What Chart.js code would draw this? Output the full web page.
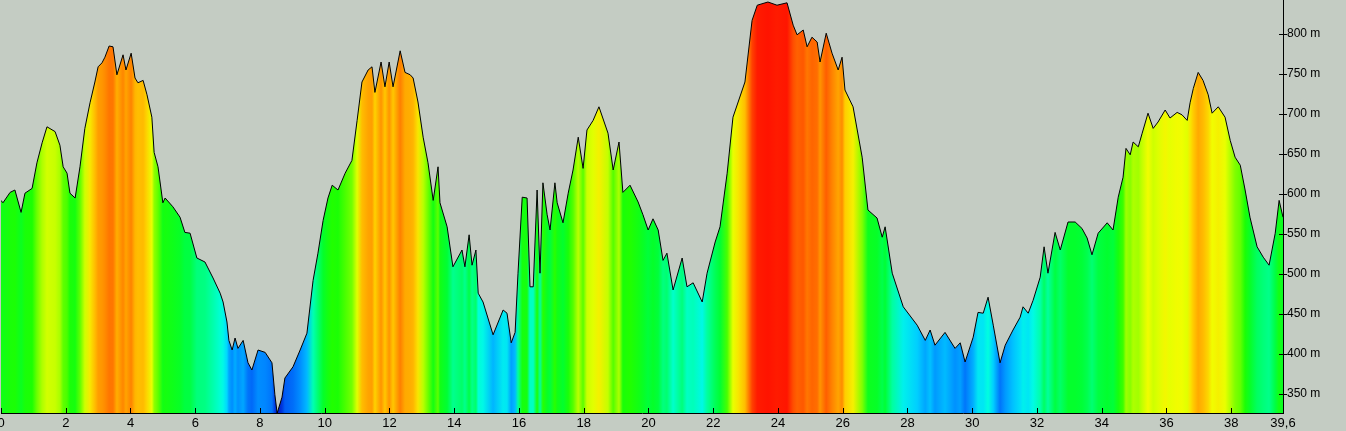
<!DOCTYPE html>
<html>
<head>
<meta charset="utf-8">
<script src="https://cdn.jsdelivr.net/npm/chart.js@4/dist/chart.umd.min.js"></script>
<style>
  body { margin: 0; background: #c4ccc3; }
  canvas { display: block; }
</style>
</head>
<body>
<canvas id="profile" width="1346" height="431"></canvas>
<script>
// distance along the track (km)
const distances = [
  0, 0.06, 0.28, 0.43, 0.62, 0.74, 0.96, 1.11, 1.27, 1.42, 1.67, 1.82, 1.92, 2.04, 2.13, 2.29,
  2.44, 2.59, 2.75, 2.90, 3.00, 3.12, 3.21, 3.34, 3.46, 3.58, 3.77, 3.86, 4.02, 4.14, 4.23, 4.39,
  4.51, 4.66, 4.73, 4.85, 5.00, 5.07, 5.31, 5.53, 5.68, 5.84, 6.05, 6.30, 6.55, 6.77, 6.86, 6.98,
  7.04, 7.14, 7.23, 7.32, 7.48, 7.63, 7.75, 7.94, 8.16, 8.37, 8.46, 8.53, 8.68, 8.77, 9.02, 9.24,
  9.45, 9.64, 9.79, 9.95, 10.10, 10.23, 10.41, 10.63, 10.84, 11.00, 11.15, 11.34, 11.46, 11.55, 11.74, 11.86,
  11.99, 12.11, 12.33, 12.48, 12.64, 12.73, 12.88, 13.04, 13.19, 13.35, 13.50, 13.56, 13.78, 13.96, 14.24, 14.33,
  14.46, 14.55, 14.67, 14.74, 14.89, 15.20, 15.51, 15.63, 15.76, 15.88, 15.97, 16.10, 16.25, 16.34, 16.44, 16.56,
  16.65, 16.74, 16.87, 16.96, 17.11, 17.18, 17.36, 17.52, 17.67, 17.83, 17.98, 18.10, 18.29, 18.47, 18.75, 18.91,
  19.09, 19.21, 19.43, 19.68, 19.83, 19.99, 20.14, 20.30, 20.45, 20.57, 20.76, 21.04, 21.19, 21.38, 21.66, 21.81,
  22.06, 22.21, 22.43, 22.61, 22.77, 22.98, 23.20, 23.36, 23.69, 23.97, 24.28, 24.47, 24.59, 24.78, 24.90, 25.05,
  25.21, 25.30, 25.49, 25.67, 25.86, 25.98, 26.07, 26.32, 26.60, 26.78, 27.06, 27.22, 27.31, 27.53, 27.87, 28.30,
  28.55, 28.70, 28.85, 29.16, 29.47, 29.63, 29.78, 30.03, 30.18, 30.34, 30.49, 30.65, 30.86, 31.02, 31.26, 31.48,
  31.57, 31.73, 31.88, 32.10, 32.22, 32.34, 32.56, 32.72, 32.96, 33.18, 33.39, 33.55, 33.70, 33.89, 34.17, 34.35,
  34.51, 34.66, 34.75, 34.88, 34.97, 35.13, 35.25, 35.43, 35.59, 35.74, 35.96, 36.11, 36.33, 36.48, 36.64, 36.73,
  36.83, 36.98, 37.13, 37.29, 37.41, 37.60, 37.81, 37.97, 38.12, 38.28, 38.43, 38.58, 38.80, 38.99, 39.17, 39.36,
  39.48, 39.60
];

// elevation (m)
const elevations = [
  592, 589, 602, 605, 577, 601, 607, 639, 664, 684, 678, 661, 634, 626, 601, 595,
  634, 682, 714, 740, 759, 764, 771, 785, 784, 749, 774, 755, 776, 745, 739, 742,
  724, 696, 652, 634, 589, 595, 584, 571, 552, 551, 520, 515, 495, 476, 465, 440,
  417, 405, 420, 407, 417, 389, 380, 405, 402, 389, 349, 326, 346, 370, 384, 405,
  426, 492, 526, 567, 595, 611, 605, 626, 642, 692, 740, 755, 759, 727, 765, 734,
  765, 734, 779, 752, 749, 745, 715, 671, 639, 592, 634, 589, 559, 509, 530, 509,
  549, 511, 530, 476, 465, 424, 455, 451, 414, 427, 501, 596, 595, 484, 484, 605,
  501, 614, 574, 555, 614, 589, 564, 601, 630, 671, 632, 680, 692, 709, 676, 630,
  665, 602, 611, 590, 574, 555, 569, 555, 517, 526, 480, 520, 484, 489, 465, 501,
  540, 559, 626, 696, 715, 740, 817, 836, 840, 836, 839, 811, 799, 805, 784, 796,
  790, 765, 801, 776, 755, 771, 730, 709, 646, 580, 570, 546, 559, 501, 459, 436,
  417, 430, 411, 427, 407, 414, 390, 421, 452, 451, 471, 436, 389, 411, 430, 446,
  459, 451, 467, 496, 534, 501, 552, 530, 565, 565, 557, 545, 524, 551, 564, 555,
  596, 621, 657, 649, 665, 659, 676, 701, 682, 690, 705, 695, 702, 699, 692, 714,
  732, 752, 742, 724, 701, 709, 696, 667, 646, 636, 605, 571, 534, 521, 511, 551,
  592, 571
];

const elevationTicks = [350, 400, 450, 500, 550, 600, 650, 700, 750, 800];
const distanceTicks = [0, 2, 4, 6, 8, 10, 12, 14, 16, 18, 20, 22, 24, 26, 28, 30, 32, 34, 36, 38, 39.6];

// elevation -> colour ramp (blue low, red high)
const ramp = [
  [326, [0, 20, 195]],
  [360, [0, 80, 240]],
  [400, [0, 130, 255]],
  [440, [0, 215, 255]],
  [470, [0, 255, 225]],
  [510, [0, 255, 140]],
  [560, [0, 255, 50]],
  [610, [30, 255, 0]],
  [660, [165, 255, 0]],
  [700, [240, 255, 0]],
  [730, [255, 205, 0]],
  [770, [255, 140, 0]],
  [810, [255, 80, 0]],
  [842, [255, 15, 0]]
];

function colourFor(v) {
  if (v <= ramp[0][0]) return 'rgb(' + ramp[0][1].join(',') + ')';
  for (let i = 1; i < ramp.length; i++) {
    if (v <= ramp[i][0]) {
      const a = ramp[i - 1], b = ramp[i];
      const t = (v - a[0]) / (b[0] - a[0]);
      const c = a[1].map((ch, k) => Math.round(ch + (b[1][k] - ch) * t));
      return 'rgb(' + c.join(',') + ')';
    }
  }
  return 'rgb(' + ramp[ramp.length - 1][1].join(',') + ')';
}

let gradCache = null;
function profileFill(context) {
  const chart = context.chart;
  const area = chart.chartArea;
  if (!area) return null;
  if (gradCache && gradCache.w === area.width) return gradCache.g;
  const xs = chart.scales.x;
  const g = chart.ctx.createLinearGradient(area.left, 0, area.right, 0);
  distances.forEach(function(d, i) {
    let pos = (xs.getPixelForValue(d) - area.left) / area.width;
    pos = Math.min(1, Math.max(0, pos));
    g.addColorStop(pos, colourFor(elevations[i]));
  });
  gradCache = { w: area.width, g: g };
  return g;
}

// small tick marks drawn from the scales
const tickMarks = {
  id: 'tickMarks',
  afterDraw(chart) {
    const ctx = chart.ctx;
    const x = chart.scales.x, y = chart.scales.y;
    ctx.save();
    ctx.strokeStyle = '#000';
    ctx.lineWidth = 1;
    ctx.beginPath();
    x.ticks.forEach(function(t) {
      const px = Math.round(x.getPixelForValue(t.value)) + 0.5;
      ctx.moveTo(px, x.top);
      ctx.lineTo(px, x.top - 5);
    });
    y.ticks.forEach(function(t) {
      const py = Math.round(y.getPixelForValue(t.value)) + 0.5;
      ctx.moveTo(y.left - 4, py);
      ctx.lineTo(y.left + 4, py);
    });
    ctx.stroke();
    ctx.restore();
  }
};

const points = distances.map((d, i) => ({ x: d, y: elevations[i] }));

function noPad(scale) {
  scale.paddingTop = 0;
  scale.paddingBottom = 0;
  scale.paddingLeft = 0;
  scale.paddingRight = 0;
}

const chart = new Chart(document.querySelector('#profile'), {
  type: 'line',
  data: {
    datasets: [{
      data: points,
      borderColor: '#000',
      borderWidth: 1,
      pointRadius: 0,
      tension: 0,
      fill: 'start',
      backgroundColor: profileFill
    }]
  },
  options: {
    responsive: false,
    animation: false,
    layout: { padding: { left: 1, top: 0, right: 0, bottom: 0 } },
    plugins: {
      legend: { display: false },
      tooltip: { enabled: false }
    },
    scales: {
      x: {
        type: 'linear',
        min: 0,
        max: 39.6,
        grid: { display: false, drawTicks: false, tickLength: 0 },
        border: { display: true, color: '#000', width: 1 },
        afterBuildTicks: function(scale) {
          scale.ticks = distanceTicks.map(v => ({ value: v }));
        },
        afterFit: function(scale) { scale.height = 18; noPad(scale); },
        ticks: {
          color: '#000',
          padding: 3,
          maxRotation: 0,
          autoSkip: false,
          font: { family: 'Liberation Sans, Arial, sans-serif', size: 13 },
          callback: function(v) { return v === 39.6 ? '39,6' : String(v); }
        }
      },
      y: {
        position: 'right',
        min: 326.25,
        max: 842.5,
        grid: { display: false, drawTicks: false, tickLength: 0 },
        border: { display: true, color: '#000', width: 1 },
        afterBuildTicks: function(scale) {
          scale.ticks = elevationTicks.map(v => ({ value: v }));
        },
        afterFit: function(scale) { scale.width = 63; noPad(scale); },
        ticks: {
          color: '#000',
          padding: 4,
          font: { family: 'Liberation Sans, Arial, sans-serif', size: 12 },
          callback: function(v) { return v + ' m'; }
        }
      }
    }
  },
  plugins: [tickMarks]
});
</script>
</body>
</html>
